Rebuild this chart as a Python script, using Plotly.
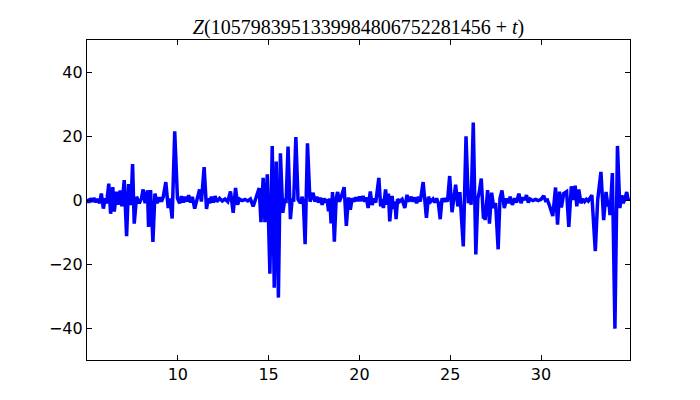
import plotly.graph_objects as go

# t values and Z(1057983951339984806752281456 + t) values
t_vals = [
    5.0, 5.1, 5.2, 5.3, 5.4, 5.5, 5.6, 5.7, 5.79, 5.9, 6.0, 6.08, 6.2, 6.3, 6.42, 6.5, 6.63, 6.74, 6.83, 6.92,
    7.05, 7.18, 7.29, 7.42, 7.51, 7.6, 7.73, 7.88, 8.0, 8.09, 8.2, 8.33, 8.39, 8.5, 8.63, 8.74, 8.87, 9.0, 9.1, 9.2,
    9.34, 9.47, 9.56, 9.69, 9.83, 9.98, 10.1, 10.2, 10.3, 10.4, 10.5, 10.6, 10.7, 10.8, 10.93, 11.05, 11.2, 11.3, 11.45, 11.58,
    11.68, 11.75, 11.85, 11.95, 12.05, 12.15, 12.3, 12.45, 12.6, 12.75, 12.9, 13.05, 13.18, 13.29, 13.4, 13.55, 13.7, 13.85, 14.0, 14.15,
    14.3, 14.48, 14.58, 14.7, 14.8, 14.93, 15.07, 15.2, 15.31, 15.42, 15.54, 15.65, 15.78, 15.9, 15.96, 16.07, 16.2, 16.3, 16.38, 16.5,
    16.62, 16.75, 16.85, 16.92, 17.01, 17.14, 17.28, 17.35, 17.45, 17.55, 17.65, 17.75, 17.85, 17.95, 18.05, 18.15, 18.22, 18.3, 18.37, 18.44,
    18.52, 18.62, 18.72, 18.8, 18.9, 19.0, 19.16, 19.28, 19.4, 19.5, 19.6, 19.7, 19.8, 19.9, 20.0, 20.1, 20.2, 20.3, 20.38, 20.48,
    20.6, 20.7, 20.8, 20.9, 21.07, 21.17, 21.25, 21.32, 21.44, 21.53, 21.6, 21.67, 21.8, 21.86, 21.92, 21.96, 22.02, 22.1, 22.2, 22.35,
    22.5, 22.62, 22.72, 22.85, 22.95, 23.05, 23.15, 23.25, 23.35, 23.51, 23.69, 23.8, 23.92, 24.05, 24.15, 24.25, 24.35, 24.45, 24.55, 24.65,
    24.75, 24.85, 24.97, 25.1, 25.2, 25.3, 25.42, 25.53, 25.72, 25.87, 26.0, 26.08, 26.15, 26.27, 26.41, 26.52, 26.6, 26.71, 26.83, 26.87,
    26.92, 27.06, 27.16, 27.28, 27.4, 27.5, 27.64, 27.74, 27.85, 27.98, 28.1, 28.2, 28.3, 28.42, 28.55, 28.65, 28.78, 28.9, 29.0, 29.1,
    29.2, 29.3, 29.4, 29.55, 29.7, 29.85, 30.0, 30.15, 30.25, 30.35, 30.45, 30.65, 30.8, 30.91, 31.02, 31.12, 31.25, 31.41, 31.53, 31.67,
    31.78, 31.88, 31.97, 32.08, 32.2, 32.3, 32.4, 32.5, 32.6, 32.7, 32.8, 32.99, 33.12, 33.3, 33.45, 33.58, 33.69, 33.74, 33.8, 33.93,
    34.07, 34.21, 34.34, 34.45, 34.53, 34.62, 34.72, 34.8, 34.9,
]
z_vals = [
    0.3, -0.8, 0.5, -0.5, 0.6, -0.7, 0.3, -1.0, 2.0, -2.7, 0.5, -1.0, 5.1, -4.3, 4.0, -3.6, 2.6, -1.5, 3.0, -2.0,
    6.2, -11.3, 5.0, -1.6, 11.2, -7.4, 1.0, -1.0, 0.5, 3.3, -1.0, 3.0, -8.4, 3.1, -13.1, 2.0, -1.0, 0.8, -0.5, 1.0,
    5.6, -2.5, 0.5, -5.8, 21.5, 0.5, -1.0, 1.2, -0.8, 1.0, -0.5, 1.5, -0.8, 1.0, -2.7, 0.5, 3.3, -0.5, 10.3, -2.8,
    0.5, -1.0, 1.0, -0.8, 1.2, -0.5, 0.5, -0.3, 0.3, -0.5, 2.7, -4.0, 3.8, -1.5, 0.3, -0.2, 0.2, -0.3, 0.3, -2.0,
    0.5, 3.7, -6.9, 6.9, -6.9, 8.0, -23.0, 16.9, -27.4, 12.0, -30.5, 14.6, -4.0, 0.5, -1.0, 16.7, -6.0, 0.5, -0.5, 19.7,
    0.2, -1.0, 1.0, -1.5, -13.8, 17.7, -0.5, 0.8, 2.2, -0.5, 1.0, -0.8, 0.7, -1.5, 0.5, -0.8, 0.3, -3.5, 0.5, -7.3,
    2.5, -13.0, 0.5, 2.5, -0.5, 1.0, 4.0, -8.1, 0.8, -3.0, 0.5, -0.5, 0.8, -0.3, 1.0, -0.3, 1.2, -0.5, 0.8, -2.5,
    2.7, -1.6, 0.5, -0.8, 6.9, -2.0, 0.3, -2.5, 3.3, -1.5, 2.0, -6.7, 1.3, -2.8, -0.5, -1.0, -6.0, 0.3, -0.5, 0.2,
    -2.5, 1.6, -0.5, 1.0, -0.5, 0.8, -1.0, 1.0, -0.5, 5.6, -5.6, 1.0, -0.5, 0.3, -0.8, 0.5, -1.0, -6.0, 0.5, -0.5,
    0.5, -0.5, 7.5, -3.8, 1.0, 4.8, -2.0, 2.5, -14.5, 19.9, -1.0, 3.0, -1.5, 24.2, -17.0, 0.5, 2.5, 6.7, -5.8, -3.0,
    -6.3, 3.1, -7.4, 2.3, -2.5, -1.0, -15.4, 0.5, 3.0, -2.5, 0.5, -1.0, 1.0, -1.5, 0.5, -0.8, 2.0, -1.0, 0.8, 0.0,
    1.5, -0.8, 0.3, -0.2, 0.2, -0.2, 0.2, 1.3, -0.2, 0.0, -1.5, -5.0, 3.9, -7.7, 2.6, -2.3, 2.0, 2.6, -8.4, 4.3,
    0.0, 4.5, -2.0, 3.3, -1.0, 0.3, -0.5, 0.2, -0.3, 0.5, 1.5, -16.0, 0.0, 8.8, -6.3, 2.5, -2.0, -0.5, -4.7, 8.4,
    -40.2, 16.9, -2.5, 1.5, -1.0, 0.5, 2.5, 0.0, 0.5,
]

x_ticks = [10, 15, 20, 25, 30]
y_ticks = [-40, -20, 0, 20, 40]
title_text = "<i>Z</i>(1057983951339984806752281456 + <i>t</i>)"

fig = go.Figure()
fig.add_trace(go.Scatter(
    x=t_vals, y=z_vals, mode="lines",
    line=dict(color="#0000ff", width=3.5),
    hoverinfo="skip", showlegend=False,
))

axis_common = dict(
    showline=True, linecolor="black", linewidth=1.2, mirror="ticks",
    ticks="inside", ticklen=5, tickwidth=1, tickcolor="black",
    showgrid=False, zeroline=False,
    tickfont=dict(family="DejaVu Sans", size=16, color="black"),
)

fig.update_xaxes(range=[5.0, 34.9], tickvals=x_ticks, **axis_common)
fig.update_yaxes(range=[-50, 50], tickvals=y_ticks, **axis_common)

W, H = 692, 392  # page body has an 8px margin
fig.update_layout(
    width=W, height=H,
    margin=dict(l=79, r=70, t=32, b=40),
    paper_bgcolor="white", plot_bgcolor="white",
    title=dict(
        text=title_text, x=0.5, xref="paper", xanchor="center",
        y=(H - 19) / H, yref="container", yanchor="middle",
        font=dict(family="Liberation Serif", size=20, color="black"),
    ),
)

fig.write_html("out.html")
